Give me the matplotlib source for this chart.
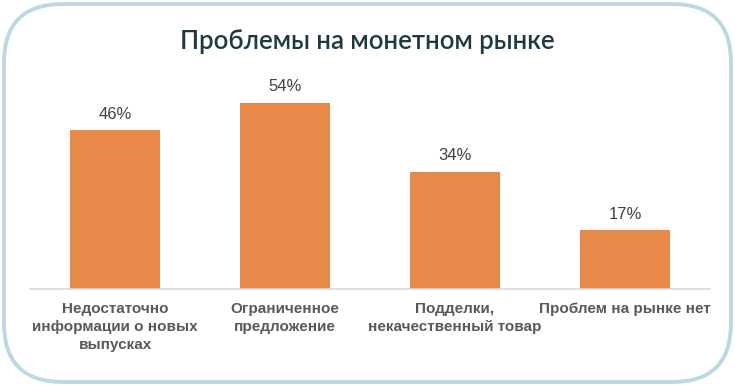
import matplotlib
matplotlib.use("Agg")
import matplotlib.pyplot as plt
from matplotlib.patches import FancyBboxPatch

categories = [
    "Недостаточно\nинформации о новых\nвыпусках",
    "Ограниченное\nпредложение",
    "Подделки,\nнекачественный товар",
    "Проблем на рынке нет",
]
values = [46, 54, 34, 17]
title = "Проблемы на монетном рынке"

BAR_COLOR = "#E8894A"
LABEL_FONT = ["Liberation Sans Narrow", "Liberation Sans", "DejaVu Sans"]

fig = plt.figure(figsize=(7.35, 3.86), dpi=100)
W, H = 735, 386

# rounded light-blue frame (drawn behind the axes)
frame = FancyBboxPatch(
    (4 / W, 4 / H), 727 / W, 378 / H,
    boxstyle="round,pad=0,rounding_size=0.08",
    transform=fig.transFigure, facecolor="none",
    edgecolor="#BCD9DF", lw=2.8, mutation_aspect=W / H, zorder=-1,
)
fig.patches.append(frame)

fig.text(0.5, 1 - 42 / H, title, ha="center", va="center",
         fontsize=18.5, color="#1F3A3D", family=["Lato", "DejaVu Sans"],
         fontweight="semibold")

ax = fig.add_axes([30 / W, (H - 289) / H, 680 / W, 207 / H])
x = range(len(values))
ax.bar(x, values, width=0.53, color=BAR_COLOR)
ax.set_xlim(-0.5, len(values) - 0.5)
ax.set_ylim(0, 60)
ax.patch.set_alpha(0)
for s in ["top", "right", "left"]:
    ax.spines[s].set_visible(False)
ax.spines["bottom"].set_color("#D9D9D9")
ax.spines["bottom"].set_linewidth(1.2)
ax.set_yticks([])
ax.set_xticks(list(x))
ax.set_xticklabels(categories, fontsize=11, fontweight="bold", color="#595959",
                   family=LABEL_FONT, linespacing=1.4, va="top")
ax.tick_params(axis="x", length=0, pad=9)

for xi, v in zip(x, values):
    ax.annotate(f"{v}%", (xi, v), xytext=(0, 6), textcoords="offset points",
                ha="center", va="bottom", fontsize=12, color="#404040",
                family=LABEL_FONT)

fig.savefig("out.png", dpi=100)
